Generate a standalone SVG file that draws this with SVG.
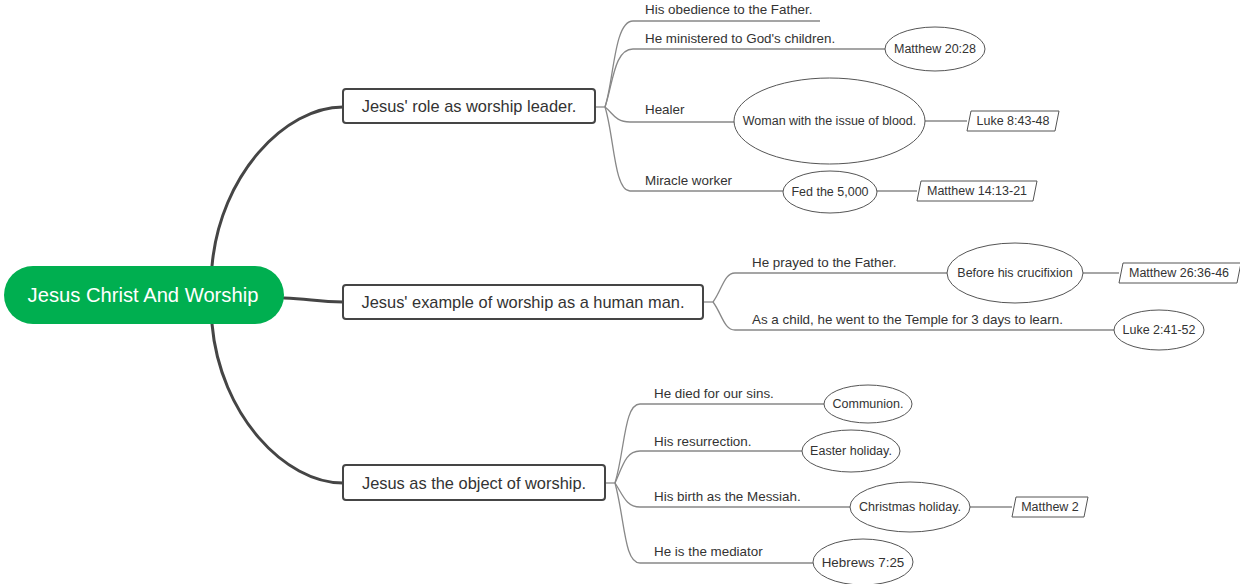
<svg xmlns="http://www.w3.org/2000/svg" width="1240" height="584" viewBox="0 0 1240 584">
<style>
.main{fill:none;stroke:#454545;stroke-width:3;stroke-linecap:round}
.sub{fill:none;stroke:#888;stroke-width:1.3}
.box{fill:#fff;stroke:#454545;stroke-width:2}
.ell{fill:#fff;stroke:#555;stroke-width:1}
.par{fill:#fff;stroke:#555;stroke-width:1}
text{font-family:"Liberation Sans",Arial,sans-serif;fill:#333}
.t16{font-size:16.4px;text-anchor:middle}
.t13{font-size:13.4px}
.t12{font-size:12.5px;text-anchor:middle}
.root{font-size:20.2px;fill:#fff;text-anchor:middle}
</style>
<g id="connectors">
<path class="main" d="M212,266 C220,175 285,107 343,107"/>
<path class="main" d="M284,298 C310,299 318,302 343,302"/>
<path class="main" d="M212,324 C220,415 285,483 343,483"/>
<path class="sub" d="M595,107 L605,107"/>
<path class="sub" d="M605,107 C614,80 614,21 633,21 L820,21"/>
<path class="sub" d="M605,107 C613,84 614,49 633,49 L885,49"/>
<path class="sub" d="M605,107 C613,113 615,122 630,122 L734,122"/>
<path class="sub" d="M605,107 C614,135 614,191 630,191 L783,191"/>
<path class="sub" d="M925,121 L967,121"/>
<path class="sub" d="M877,191 L917,191"/>
<path class="sub" d="M703,302 L713,302"/>
<path class="sub" d="M713,302 C722,290 724,273 735,273 L947,273"/>
<path class="sub" d="M713,302 C722,314 724,330 735,330 L1114,330"/>
<path class="sub" d="M1083,273 L1119,273"/>
<path class="sub" d="M605,483 L615,483"/>
<path class="sub" d="M615,483 C625,450 624,404 640,404 L824,404"/>
<path class="sub" d="M615,483 C623,465 626,451 640,451 L802,451"/>
<path class="sub" d="M615,483 C623,495 626,507 640,507 L850,507"/>
<path class="sub" d="M615,483 C625,520 624,563 640,563 L813,563"/>
<path class="sub" d="M970,507 L1012,507"/>
</g>
<g id="root">
<rect x="4" y="266" width="280" height="58" rx="29" fill="#00AF50"/>
<text class="root" x="143" y="302">Jesus Christ And Worship</text>
</g>
<g id="b1">
<rect class="box" x="343" y="89" width="252" height="34" rx="3"/>
<text class="t16" x="469" y="112">Jesus' role as worship leader.</text>
</g>
<g id="b2">
<rect class="box" x="343" y="285" width="360" height="34" rx="3"/>
<text class="t16" x="523" y="308">Jesus' example of worship as a human man.</text>
</g>
<g id="b3">
<rect class="box" x="343" y="465" width="262" height="35" rx="3"/>
<text class="t16" x="474" y="489">Jesus as the object of worship.</text>
</g>
<g id="c1"><text class="t13" x="645" y="14">His obedience to the Father.</text></g>
<g id="c2"><text class="t13" x="645" y="43">He ministered to God's children.</text></g>
<g id="c2a"><ellipse class="ell" cx="935" cy="49" rx="50" ry="22"/><text class="t12" x="935" y="53">Matthew 20:28</text></g>
<g id="c3"><text class="t13" x="645" y="114">Healer</text></g>
<g id="c3a"><ellipse class="ell" cx="829.5" cy="121" rx="95.5" ry="43"/><text class="t12" x="829.5" y="125">Woman with the issue of blood.</text></g>
<g id="c3b"><polygon class="par" points="971,111 1059,111 1055,131 967,131"/><text class="t12" x="1013" y="125">Luke 8:43-48</text></g>
<g id="c4"><text class="t13" x="645" y="185">Miracle worker</text></g>
<g id="c4a"><ellipse class="ell" cx="830" cy="192" rx="47" ry="21"/><text class="t12" x="830" y="196">Fed the 5,000</text></g>
<g id="c4b"><polygon class="par" points="921,181 1037,181 1033,201 917,201"/><text class="t12" x="977" y="195">Matthew 14:13-21</text></g>
<g id="d1"><text class="t13" x="752" y="267">He prayed to the Father.</text></g>
<g id="d1a"><ellipse class="ell" cx="1015" cy="273" rx="68" ry="30"/><text class="t12" x="1015" y="277">Before his crucifixion</text></g>
<g id="d1b"><polygon class="par" points="1123,263 1241,263 1237,283 1119,283"/><text class="t12" x="1179" y="277">Matthew 26:36-46</text></g>
<g id="d2"><text class="t13" x="752" y="324">As a child, he went to the Temple for 3 days to learn.</text></g>
<g id="d2a"><ellipse class="ell" cx="1159" cy="330" rx="45" ry="20"/><text class="t12" x="1159" y="334">Luke 2:41-52</text></g>
<g id="e1"><text class="t13" x="654" y="398">He died for our sins.</text></g>
<g id="e1a"><ellipse class="ell" cx="868" cy="404" rx="44" ry="19"/><text class="t12" x="868" y="408">Communion.</text></g>
<g id="e2"><text class="t13" x="654" y="446">His resurrection.</text></g>
<g id="e2a"><ellipse class="ell" cx="851" cy="451" rx="49" ry="21"/><text class="t12" x="851" y="455">Easter holiday.</text></g>
<g id="e3"><text class="t13" x="654" y="501">His birth as the Messiah.</text></g>
<g id="e3a"><ellipse class="ell" cx="910" cy="507" rx="60" ry="25"/><text class="t12" x="910" y="511">Christmas holiday.</text></g>
<g id="e3b"><polygon class="par" points="1016,497 1088,497 1084,517 1012,517"/><text class="t12" x="1050" y="511">Matthew 2</text></g>
<g id="e4"><text class="t13" x="654" y="556">He is the mediator</text></g>
<g id="e4a"><ellipse class="ell" cx="863" cy="562" rx="50" ry="23"/><text class="t13" x="863" y="567" text-anchor="middle">Hebrews 7:25</text></g>
</svg>
